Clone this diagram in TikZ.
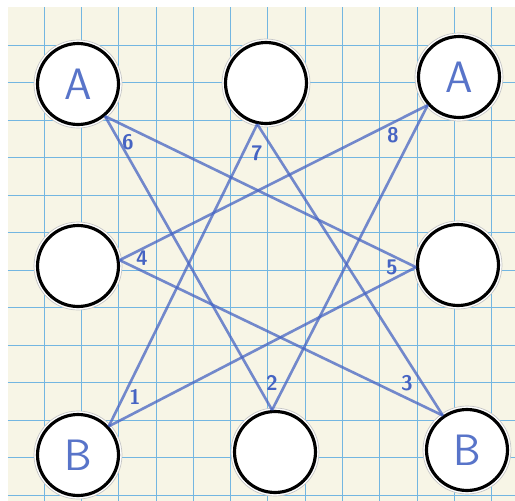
\documentclass[tikz,border=0pt]{standalone}
\usepackage{xcolor}
\usepackage{tikz}
\definecolor{paper}{RGB}{247,245,230}
\definecolor{gridblue}{RGB}{115,182,225}
\definecolor{inkblue}{RGB}{70,100,195}

\begin{document}
\begin{tikzpicture}[x=0.02cm, y=-0.02cm,
  spot/.style={circle, draw=black, line width=1.8pt, fill=white, minimum size=1.62cm,
    inner sep=0pt, text=inkblue!90, font=\sffamily\fontsize{25}{25}\selectfont},
  halo/.style={draw=gray!45, fill=white, line width=0.4pt},
  pen/.style={inkblue, line width=1.5pt, opacity=0.75},
  num/.style={inkblue, font=\sffamily\bfseries\fontsize{12}{12}\selectfont}]
  \useasboundingbox (0,0) rectangle (515,501);
  % Paper and grid
  \fill[white] (0,0) rectangle (515,501);
  \fill[paper] (8,7) rectangle (515,501);
  \foreach \k in {0,...,12} {
    \draw[gridblue, line width=0.55pt] ({44+37.33*\k},7) -- ({44+37.33*\k},501);
    \draw[gridblue, line width=0.55pt] (8,{45+37.5*\k}) -- (515,{45+37.5*\k});
  }
  % Paper rings behind the circles
  \foreach \cx/\cy in {78/84, 266/83, 459/77, 78/266, 458/265, 78/455, 275/452, 467/450}
    \draw[halo] (\cx,\cy) circle (44);
  % Circles
  \node[spot] (tl) at (78,84) {A};
  \node[spot] (tc) at (266,83) {};
  \node[spot] (tr) at (459,77) {A};
  \node[spot] (ml) at (78,266) {};
  \node[spot] (mr) at (458,265) {};
  \node[spot] (bl) at (78,455) {B};
  \node[spot] (bc) at (275,452) {};
  \node[spot] (br) at (467,450) {B};
  % Star of lines
  \draw[pen] (tl.-50) -- (mr.-177);
  \draw[pen] (mr.-177) -- (bl.43);
  \draw[pen] (bl.43) -- (tc.-102);
  \draw[pen] (tc.-102) -- (br.125);
  \draw[pen] (br.125) -- (ml.8);
  \draw[pen] (ml.8) -- (tr.-138);
  \draw[pen] (tr.-138) -- (bc.94);
  \draw[pen] (bc.94) -- (tl.-50);
  % Numbers
  \node[num] (n1) at (135,397) {1};
  \node[num] (n2) at (272,383) {2};
  \node[num] (n3) at (407,383) {3};
  \node[num] (n4) at (142,258) {4};
  \node[num] (n5) at (392,267) {5};
  \node[num] (n6) at (128,142) {6};
  \node[num] (n7) at (257,153) {7};
  \node[num] (n8) at (393,135) {8};
\end{tikzpicture}
\end{document}
